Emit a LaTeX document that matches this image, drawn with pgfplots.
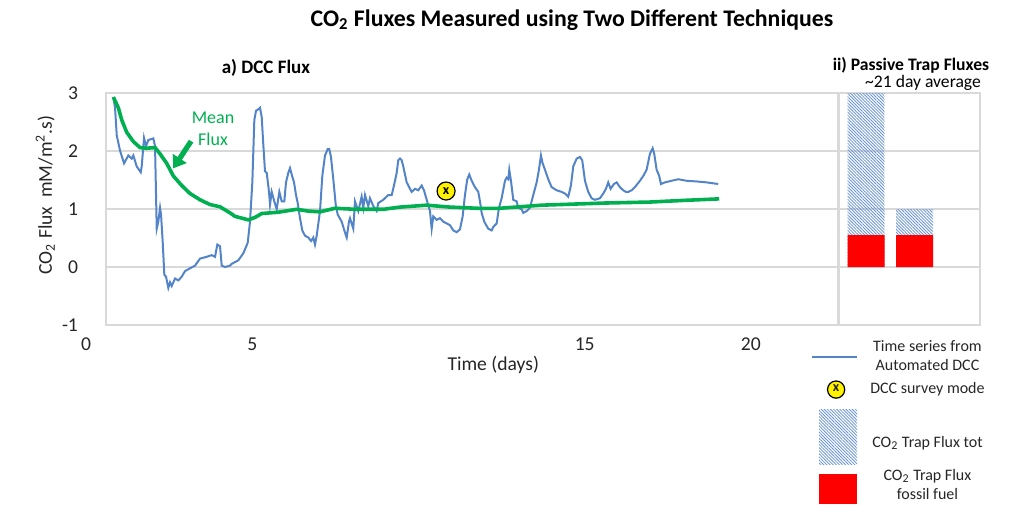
\documentclass[border=0pt]{standalone}
\usepackage{pgfplots}
\pgfplotsset{compat=1.18}
\usepackage{pgfplotstable}
\usepackage{fontspec}
\setmainfont{Carlito}
\usetikzlibrary{arrows.meta,patterns.meta}

\definecolor{dccblue}{RGB}{84,132,200}
\definecolor{meangreen}{RGB}{0,176,80}
\definecolor{gridgray}{RGB}{217,217,217}
\definecolor{trapred}{RGB}{255,0,0}
\definecolor{hatchblue}{RGB}{105,148,212}

% automated DCC time series (days, flux)
\pgfplotstableread{
day flux
0.821 2.93
0.872 2.746
0.923 2.27
1.023 2.005
1.143 1.787
1.272 1.923
1.374 1.869
1.423 1.923
1.525 1.733
1.645 1.634
1.674 1.733
1.744 2.227
1.805 2.084
1.874 2.19
2.024 2.217
2.075 2.084
2.126 0.66
2.174 0.782
2.226 1.021
2.256 0.904
2.307 0.418
2.355 -0.135
2.406 -0.167
2.475 -0.36
2.526 -0.263
2.577 -0.327
2.677 -0.198
2.776 -0.231
2.878 -0.167
2.977 -0.071
3.077 -0.038
3.278 0.024
3.429 0.145
3.630 0.176
3.780 0.205
3.880 0.176
3.949 0.387
4.030 0.358
4.081 0.024
4.180 0.0
4.331 0.024
4.382 0.055
4.580 0.115
4.731 0.236
4.863 0.418
4.932 0.782
5.002 1.459
5.062 2.535
5.113 2.694
5.182 2.719
5.233 2.746
5.284 2.587
5.332 2.111
5.383 1.651
5.435 1.623
5.504 1.295
5.534 1.077
5.585 1.295
5.663 1.131
5.735 0.995
5.784 1.185
5.814 1.295
5.886 1.131
5.964 1.131
6.015 1.459
6.084 1.623
6.135 1.705
6.186 1.595
6.256 1.459
6.316 1.241
6.367 1.103
6.436 0.842
6.505 0.631
6.586 0.54
6.686 0.509
6.767 0.449
6.836 0.509
6.887 0.387
6.938 0.54
7.038 0.964
7.107 1.569
7.188 1.923
7.269 2.032
7.317 2.032
7.368 1.897
7.438 1.513
7.510 1.077
7.570 0.904
7.690 0.782
7.769 0.631
7.841 0.509
7.910 0.782
7.940 0.84
8.039 0.66
8.090 1.131
8.190 0.964
8.290 1.213
8.340 1.021
8.391 1.241
8.490 1.049
8.541 1.185
8.641 1.049
8.743 0.964
8.791 1.103
8.941 1.159
9.092 1.241
9.194 1.241
9.263 1.405
9.344 1.623
9.392 1.841
9.444 1.869
9.495 1.841
9.543 1.733
9.645 1.459
9.744 1.349
9.795 1.295
9.895 1.349
9.994 1.323
10.096 1.405
10.165 1.323
10.247 1.159
10.346 0.964
10.397 0.66
10.445 0.873
10.547 0.813
10.647 0.842
10.746 0.782
10.848 0.751
10.947 0.722
11.047 0.631
11.149 0.6
11.248 0.649
11.329 0.873
11.398 1.241
11.468 1.513
11.528 1.595
11.600 1.487
11.699 1.377
11.799 1.295
11.850 1.131
11.901 0.933
11.979 0.782
12.099 0.66
12.201 0.631
12.249 0.691
12.352 0.751
12.421 1.021
12.502 1.185
12.602 1.487
12.653 1.541
12.701 1.513
12.731 1.677
12.782 1.487
12.851 1.159
12.953 1.131
13.002 1.021
13.104 0.995
13.152 0.933
13.254 0.964
13.353 1.021
13.453 1.241
13.555 1.459
13.624 1.677
13.684 1.923
13.735 1.787
13.805 1.677
13.904 1.513
14.006 1.377
14.156 1.323
14.307 1.295
14.406 1.267
14.505 1.213
14.586 1.405
14.656 1.733
14.758 1.869
14.857 1.897
14.926 1.841
15.008 1.487
15.107 1.295
15.209 1.185
15.308 1.159
15.459 1.185
15.558 1.267
15.639 1.349
15.708 1.459
15.780 1.349
15.880 1.431
15.961 1.459
16.060 1.377
16.159 1.323
16.241 1.295
16.310 1.295
16.412 1.323
16.511 1.377
16.662 1.487
16.761 1.569
16.863 1.677
16.962 1.951
17.044 2.048
17.092 1.951
17.164 1.677
17.242 1.569
17.293 1.431
17.414 1.459
17.615 1.487
17.814 1.513
18.066 1.487
18.367 1.475
18.667 1.459
19.016 1.431
}\dccflux

% running mean flux
\pgfplotstableread{
day flux
0.821 2.93
0.971 2.746
1.074 2.535
1.224 2.322
1.423 2.163
1.624 2.059
1.826 2.048
2.075 2.059
2.226 1.951
2.427 1.787
2.626 1.569
2.878 1.405
3.128 1.267
3.429 1.159
3.729 1.077
4.030 1.038
4.331 0.933
4.481 0.873
4.881 0.813
5.083 0.855
5.284 0.922
5.784 0.945
6.337 0.995
6.686 0.964
7.038 0.951
7.489 1.013
8.090 0.995
8.941 0.995
9.444 1.033
10.247 1.066
10.947 1.033
11.850 1.011
12.400 1.011
13.705 1.066
15.609 1.103
16.962 1.120
17.964 1.148
19.047 1.175
}\meanflux

\begin{document}
\begin{tikzpicture}
\path[use as bounding box] (0,0) rectangle (512pt,-254.5pt);

\node[font=\bfseries\fontsize{11.9}{14}\selectfont] at (286pt,-10pt)
  {CO\textsubscript{2} Fluxes Measured using Two Different Techniques};
\node[font=\bfseries\fontsize{9.5}{11}\selectfont] at (133pt,-34pt) {a) DCC Flux};
\node[font=\bfseries\fontsize{8.8}{10}\selectfont, inner sep=1pt] at (455.5pt,-32.5pt) {ii) Passive Trap Fluxes};
\node[font=\fontsize{8.8}{10}\selectfont, inner sep=1pt] at (461.5pt,-41.5pt) {\textasciitilde21 day average};

\begin{axis}[
  at={(53pt,-162.5pt)}, anchor=south west,
  width=366pt, height=116pt, scale only axis,
  xmin=0.6, xmax=22.62, ymin=-1, ymax=3,
  xtick={5,15,20}, ytick={-1,0,1,2,3},
  major tick length=0pt,
  ymajorgrids,
  grid style={gridgray, line width=0.7pt},
  axis line style={gridgray, line width=0.7pt},
  tick label style={font=\fontsize{9.8}{11}\selectfont, text=black!85},
  /pgf/number format/assume math mode=true,
  yticklabel style={xshift=-10.5pt},
  xticklabel style={yshift=-3pt},
  xlabel={Time (days)},
  ylabel={CO\textsubscript{2} Flux\ \ mM/m\textsuperscript{2}.s)},
  label style={font=\fontsize{9.8}{11}\selectfont, text=black!85},
  xlabel style={at={(axis description cs:0.529,-0.172)}, anchor=center},
  ylabel style={at={(axis description cs:-0.083,0.56)}, anchor=center},
  clip=false,
]
\addplot[dccblue, line width=1pt] table[x=day, y=flux] {\dccflux};
\addplot[meangreen, line width=1.8pt] table[x=day, y=flux] {\meanflux};
\addplot[only marks, mark=*, mark size=4.5pt,
  mark options={fill=yellow, draw=black, line width=0.6pt},
  nodes near coords={\textbf{x}},
  nodes near coords style={anchor=center, inner sep=0pt, font=\fontsize{7}{8}\selectfont}]
  coordinates {(10.83,1.31)};

\node[meangreen, align=center, font=\fontsize{9}{11}\selectfont] at (axis cs:3.82,2.38) {Mean\\Flux};
\draw[meangreen, line width=2.6pt, -{Triangle[width=8pt,length=6pt]}]
  (axis cs:3.16,2.17) -- (axis cs:2.62,1.70);
\node[anchor=north, inner sep=0.333em, yshift=-3pt, font=\fontsize{9.8}{11}\selectfont, text=black!85]
  at (axis cs:0,-1) {0};
\end{axis}

\begin{axis}[
  at={(419.5pt,-162.5pt)}, anchor=south west,
  width=70.5pt, height=116pt, scale only axis,
  xmin=0.44, xmax=3.35, ymin=-1, ymax=3,
  xtick=\empty, ytick={-1,0,1,2,3}, yticklabels={},
  major tick length=0pt,
  ymajorgrids,
  grid style={gridgray, line width=0.7pt},
  axis line style={gridgray, line width=0.7pt},
  clip=false,
  legend cell align=center,
  legend style={at={(axis description cs:-0.202,-0.047)}, anchor=north west,
    draw=none, fill=none, inner sep=0pt, row sep=0.5pt, column sep=4pt,
    font=\fontsize{8}{9.6}\selectfont, cells={align=center}, text=black!85},
]
\addlegendimage{legend image code/.code={\draw[dccblue, line width=1.2pt] (0pt,0pt) -- (22.5pt,0pt);}}
\addlegendentry{Time series from\\Automated DCC}
\addlegendimage{legend image code/.code={%
  \draw[fill=yellow, draw=black, line width=0.6pt] (12pt,0pt) circle (4.3pt);
  \node[font=\bfseries\fontsize{7}{8}\selectfont, inner sep=0pt] at (12pt,0pt) {x};
  \path[draw=none] (12pt,-9.5pt);}}
\addlegendentry{DCC survey mode}
\addlegendimage{legend image code/.code={%
  \path[draw=none, pattern={Lines[angle=-45,distance=1.1pt,line width=0.42pt]}, pattern color=hatchblue]
    (3.5pt,-10.75pt) rectangle (22.5pt,16.75pt);}}
\addlegendentry{CO\textsubscript{2} Trap Flux tot}
\addlegendimage{legend image code/.code={\fill[trapred, draw=none] (3.5pt,-9pt) rectangle (22.5pt,6pt);}}
\addlegendentry{CO\textsubscript{2} Trap Flux\\fossil fuel}

% total trap flux, then fossil fuel part drawn over its base
\addplot[ybar, bar width=0.76, bar shift=0pt, draw=none, forget plot,
  pattern={Lines[angle=-45,distance=1.1pt,line width=0.42pt]}, pattern color=hatchblue]
  coordinates {(1,3.0) (2,1.0)};
\addplot[ybar, bar width=0.76, bar shift=0pt, draw=none, fill=trapred, forget plot]
  coordinates {(1,0.55) (2,0.55)};
\end{axis}
\end{tikzpicture}
\end{document}
